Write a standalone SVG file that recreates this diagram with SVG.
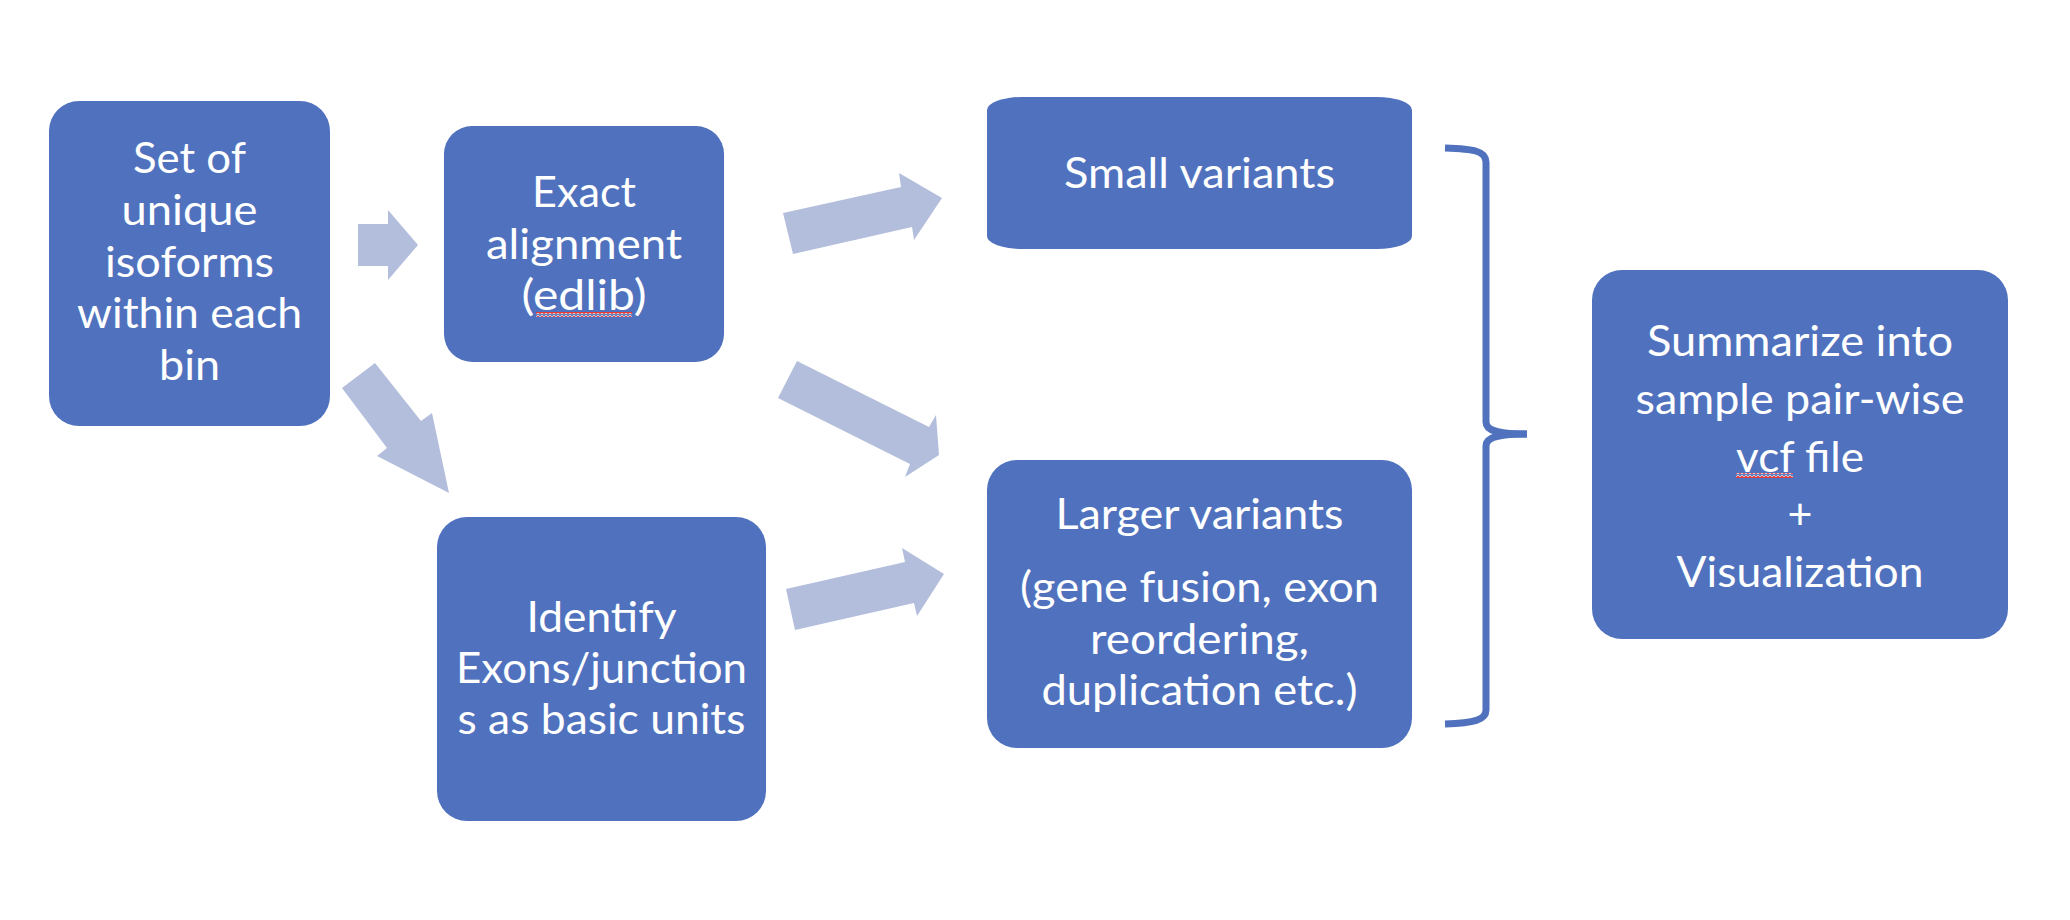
<svg xmlns="http://www.w3.org/2000/svg" width="2070" height="920" viewBox="0 0 2070 920">
<style>
.box{fill:#5072BE;}
.arr{fill:#B3BEDC;}
.brace{fill:none;stroke:#5072BE;stroke-width:7;stroke-linecap:butt;stroke-linejoin:round;}
text{font-family:Lato,"Open Sans","Noto Sans",sans-serif;font-size:43px;fill:#FFFFFF;text-anchor:middle;}
.sq{fill:url(#squig);}
</style>
<defs>
<pattern id="squig" x="0" y="0" width="4" height="5" patternUnits="userSpaceOnUse">
<path d="M0,3.5 L2,1.5 L4,3.5" fill="none" stroke="#FFFFFF" stroke-width="2.6"/>
<path d="M0,3.5 L2,1.5 L4,3.5" fill="none" stroke="#E0281E" stroke-width="1.5"/>
</pattern>
</defs>
<rect width="2070" height="920" fill="#FFFFFF"/>
<g id="connectors">
<polygon class="arr" points="358,224 388,224 388,210 418,245 388,280 388,266 358,266"/>
<polygon class="arr" points="342,388 375,363 421,421 432,413 449,493 377,456 387,448"/>
<polygon class="arr" points="783,213 901,187 899,173 942,198 914,240 912,227 793,254"/>
<polygon class="arr" points="797,361 929,427 936,415 939,455 905,477 910,464 778,398"/>
<polygon class="arr" points="786,589 905,562 902,548 944,574 917,616 914,603 795,630"/>
<path class="brace" d="M1445,148 C1474,149 1486,151 1486,162 L1486,422 C1486,431 1498,434 1527,434"/>
<path class="brace" d="M1527,434 C1498,434 1486,437 1486,446 L1486,710 C1486,720 1474,723 1445,724"/>
</g>
<g id="node-isoforms">
<rect class="box" x="49" y="101" width="281" height="325" rx="30"/>
<text x="189.5" y="173" textLength="113" lengthAdjust="spacingAndGlyphs">Set of</text>
<text x="189.5" y="224.7" textLength="136" lengthAdjust="spacingAndGlyphs">unique</text>
<text x="189.5" y="276.5" textLength="169" lengthAdjust="spacingAndGlyphs">isoforms</text>
<text x="189.5" y="328.2" textLength="225" lengthAdjust="spacingAndGlyphs">within each</text>
<text x="189.5" y="380" textLength="61" lengthAdjust="spacingAndGlyphs">bin</text>
</g>
<g id="node-exact">
<rect class="box" x="444" y="126" width="280" height="236" rx="28"/>
<text x="584" y="207" textLength="104" lengthAdjust="spacingAndGlyphs">Exact</text>
<text x="584" y="258.5" textLength="196" lengthAdjust="spacingAndGlyphs">alignment</text>
<text x="584" y="310" textLength="125" lengthAdjust="spacingAndGlyphs">(edlib)</text>
<rect class="sq" x="536" y="312" width="96" height="5"/>
</g>
<g id="node-identify">
<rect class="box" x="437" y="517" width="329" height="304" rx="30"/>
<text x="601.5" y="632" textLength="150" lengthAdjust="spacingAndGlyphs">Identify</text>
<text x="601.5" y="683" textLength="291" lengthAdjust="spacingAndGlyphs">Exons/junction</text>
<text x="601.5" y="734" textLength="288" lengthAdjust="spacingAndGlyphs">s as basic units</text>
</g>
<g id="node-small">
<rect class="box" x="987" y="97" width="425" height="152" rx="35" ry="13"/>
<text x="1199.5" y="188" textLength="271" lengthAdjust="spacingAndGlyphs">Small variants</text>
</g>
<g id="node-larger">
<rect class="box" x="987" y="460" width="425" height="288" rx="30"/>
<text x="1199.5" y="529" textLength="288" lengthAdjust="spacingAndGlyphs">Larger variants</text>
<text x="1199.5" y="602" textLength="359" lengthAdjust="spacingAndGlyphs">(gene fusion, exon</text>
<text x="1199.5" y="653.5" textLength="219" lengthAdjust="spacingAndGlyphs">reordering,</text>
<text x="1199.5" y="705" textLength="316" lengthAdjust="spacingAndGlyphs">duplication etc.)</text>
</g>
<g id="node-summary">
<rect class="box" x="1592" y="270" width="416" height="369" rx="30"/>
<text x="1800" y="356" textLength="306" lengthAdjust="spacingAndGlyphs">Summarize into</text>
<text x="1800" y="414" textLength="329" lengthAdjust="spacingAndGlyphs">sample pair-wise</text>
<text x="1800" y="471.5" textLength="128" lengthAdjust="spacingAndGlyphs">vcf file</text>
<rect class="sq" x="1736" y="473" width="57" height="5"/>
<text x="1800" y="529">+</text>
<text x="1800" y="587" textLength="247" lengthAdjust="spacingAndGlyphs">Visualization</text>
</g>
</svg>
